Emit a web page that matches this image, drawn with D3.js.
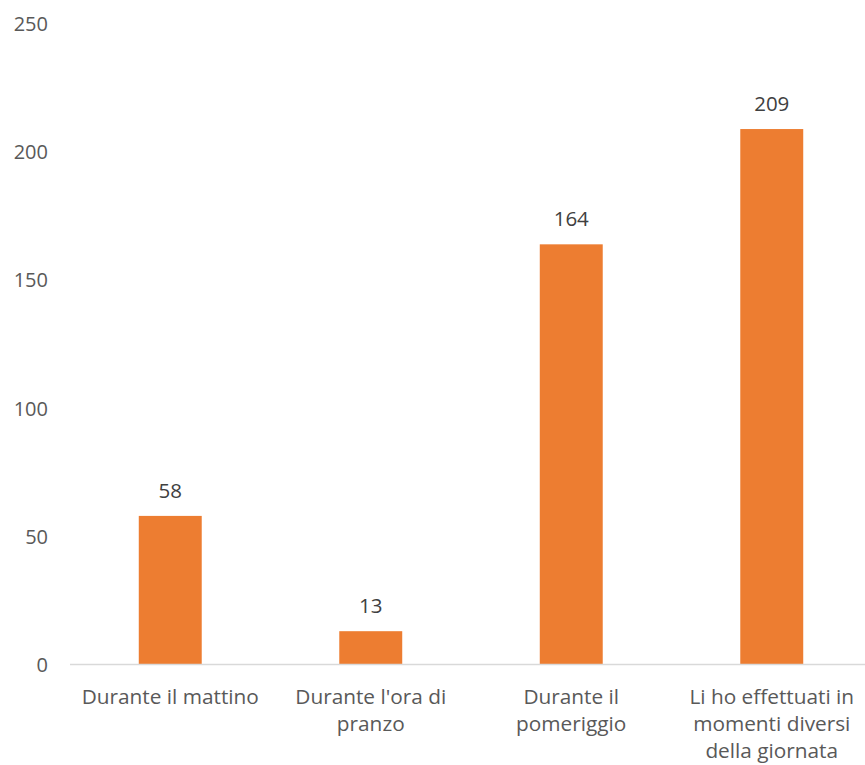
<!DOCTYPE html>
<html><head><meta charset="utf-8">
<script src="https://cdn.jsdelivr.net/npm/d3@7"></script>
<style>body{margin:0;background:#fff}svg{display:block}</style>
</head><body>
<script>
const categories = ["Durante il mattino", "Durante l'ora di pranzo", "Durante il pomeriggio", "Li ho effettuati in momenti diversi della giornata"];
const categoryLines = [["Durante il mattino"], ["Durante l'ora di", "pranzo"], ["Durante il", "pomeriggio"], ["Li ho effettuati in", "momenti diversi", "della giornata"]];
const values = [58, 13, 164, 209];
const yTicks = [0, 50, 100, 150, 200, 250];

const W = 865, H = 765;
const font = "'Open Sans', sans-serif";
const svg = d3.select("body").append("svg").attr("width", W).attr("height", H);

const x = d3.scaleBand().domain(categories).range([70, 872]).paddingInner(0.686).paddingOuter(0.343);
const y = d3.scaleLinear().domain([0, 250]).range([664.5, 24]);

// y tick labels
svg.append("g").selectAll("text").data(yTicks).join("text")
  .attr("x", 48).attr("y", d => y(d)).attr("dy", "0.36em")
  .attr("text-anchor", "end").attr("font-family", font).attr("font-size", 20).attr("fill", "#595959")
  .text(d => d);

// bars
svg.append("g").selectAll("rect").data(values).join("rect")
  .attr("x", (d, i) => x(categories[i])).attr("width", x.bandwidth())
  .attr("y", d => y(d)).attr("height", d => y(0) - y(d))
  .attr("fill", "#ED7D31");

// baseline
svg.append("line").attr("x1", 70).attr("x2", W).attr("y1", y(0)).attr("y2", y(0))
  .attr("stroke", "#D9D9D9").attr("stroke-width", 1.5);

// data labels
svg.append("g").selectAll("text").data(values).join("text")
  .attr("x", (d, i) => x(categories[i]) + x.bandwidth() / 2).attr("y", d => y(d) - 18)
  .attr("text-anchor", "middle").attr("font-family", font).attr("font-size", 20.5).attr("fill", "#404040")
  .text(d => d);

// category labels
const g = svg.append("g");
categories.forEach((c, i) => {
  const t = g.append("text").attr("text-anchor", "middle").attr("font-family", font)
    .attr("font-size", 20.8).attr("fill", "#595959");
  categoryLines[i].forEach((ln, j) => {
    t.append("tspan").attr("x", x(c) + x.bandwidth() / 2).attr("y", y(0) + 39 + j * 27).text(ln);
  });
});
</script>
</body></html>
